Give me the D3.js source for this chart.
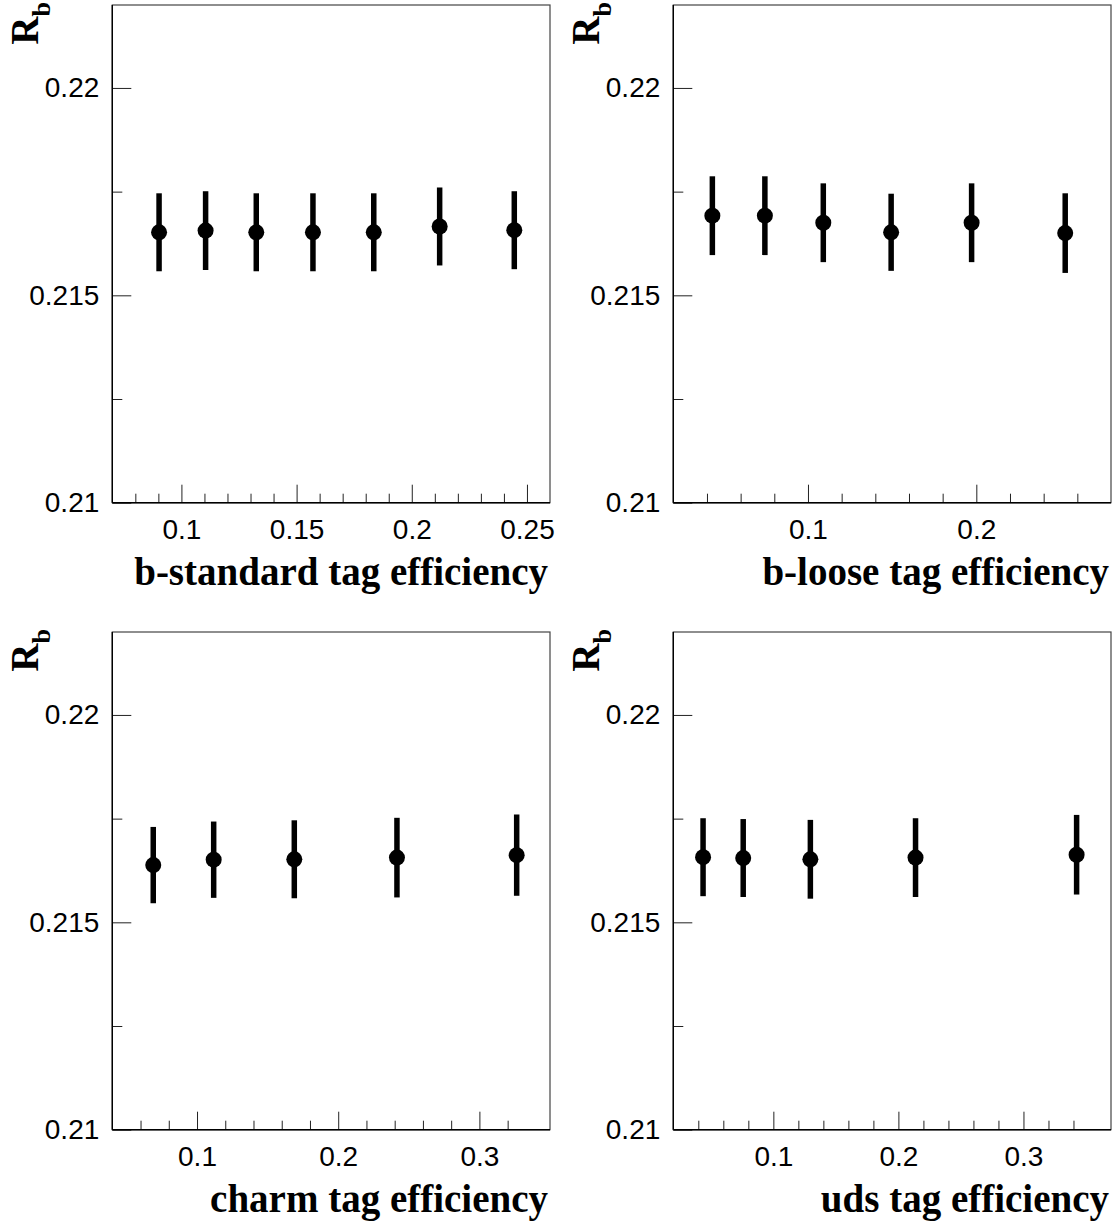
<!DOCTYPE html>
<html>
<head>
<meta charset="utf-8">
<script src="https://cdn.jsdelivr.net/npm/d3@7"></script>
<style>
  body { margin: 0; background: #fff; }
  svg { display: block; }
  .tick text { font-family: "Liberation Sans", Arial, Helvetica, sans-serif; font-size: 28px; fill: #000; }
  .tick line { stroke: #222; stroke-width: 1; }
  .ttl { font-family: "Liberation Serif", "Times New Roman", serif; font-weight: bold; fill: #000; }
</style>
</head>
<body>
<svg id="fig" width="1118" height="1222"></svg>
<script>
// R_b measured versus the tag efficiency of each hemisphere tag
let bstdEff = [0.0903, 0.1105, 0.1325, 0.1571, 0.1835, 0.2121, 0.2445];
let bstdRb  = [0.21652, 0.21656, 0.21652, 0.21652, 0.21652, 0.21666, 0.21657];
let bstdErr = [0.00094, 0.00095, 0.00094, 0.00094, 0.00094, 0.00094, 0.00094];

let blooseEff = [0.0432, 0.0744, 0.1091, 0.1494, 0.1972, 0.2528];
let blooseRb  = [0.21692, 0.21692, 0.21675, 0.21652, 0.21675, 0.21650];
let blooseErr = [0.00095, 0.00095, 0.00095, 0.00093, 0.00095, 0.00096];

let charmEff = [0.069, 0.1118, 0.1689, 0.2416, 0.3264];
let charmRb  = [0.21638, 0.21651, 0.21652, 0.21656, 0.21662];
let charmErr = [0.00092, 0.00092, 0.00094, 0.00096, 0.00098];

let udsEff = [0.0438, 0.0759, 0.1296, 0.2137, 0.3425];
let udsRb  = [0.21657, 0.21655, 0.21652, 0.21656, 0.21663];
let udsErr = [0.00094, 0.00094, 0.00095, 0.00095, 0.00096];

let yTicks = [0.21, 0.215, 0.22];
let yMinor = [0.2125, 0.2175];
let bstdTicks = [0.1, 0.15, 0.2, 0.25];
let blooseTicks = [0.1, 0.2];
let charmTicks = [0.1, 0.2, 0.3];
let udsTicks = [0.1, 0.2, 0.3];

let panels = [
  {title: 'b-standard tag efficiency', eff: bstdEff, rb: bstdRb, err: bstdErr, dom: [0.07, 0.26], ticks: bstdTicks, step: 0.01, col: 0, row: 0},
  {title: 'b-loose tag efficiency', eff: blooseEff, rb: blooseRb, err: blooseErr, dom: [0.02, 0.28], ticks: blooseTicks, step: 0.02, col: 1, row: 0},
  {title: 'charm tag efficiency', eff: charmEff, rb: charmRb, err: charmErr, dom: [0.04, 0.35], ticks: charmTicks, step: 0.02, col: 0, row: 1},
  {title: 'uds tag efficiency', eff: udsEff, rb: udsRb, err: udsErr, dom: [0.02, 0.37], ticks: udsTicks, step: 0.02, col: 1, row: 1}
];

let svg = d3.select('#fig');
let padL = 112.3, padT = 5, w = 437.7, h = 497.7;
let colOff = 561, rowOff = 627;

panels.forEach(p => {
  let g = svg.append('g')
    .attr('transform', `translate(${padL + p.col * colOff},${padT + p.row * rowOff})`);

  let x = d3.scaleLinear().domain(p.dom).range([0, w]);
  let y = d3.scaleLinear().domain([0.21, 0.222]).range([h, 0]);

  // minor ticks first (no labels)
  let minor = d3.range(p.dom[0] + p.step, p.dom[1] - p.step / 2, p.step)
    .filter(v => !p.ticks.some(t => Math.abs(t - v) < 1e-6));
  g.append('g').attr('transform', `translate(0,${h})`)
    .call(d3.axisBottom(x).tickValues(minor).tickSize(-9).tickFormat(''))
    .call(a => a.select('.domain').remove());
  g.append('g')
    .call(d3.axisLeft(y).tickValues(yMinor).tickSize(-10).tickFormat(''))
    .call(a => a.select('.domain').remove());

  // major ticks with labels
  g.append('g').attr('transform', `translate(0,${h})`)
    .call(d3.axisBottom(x).tickValues(p.ticks).tickSize(-18).tickPadding(16).tickFormat(d => String(d)))
    .call(a => a.select('.domain').remove());
  g.append('g')
    .call(d3.axisLeft(y).tickValues(yTicks).tickSize(-19).tickPadding(13).tickFormat(d => String(d)))
    .call(a => a.select('.domain').remove());

  // frame
  g.append('rect').attr('width', w).attr('height', h)
    .attr('fill', 'none').attr('stroke', '#444').attr('stroke-width', 1.2);
  g.append('line').attr('x1', 0).attr('x2', 0).attr('y1', 0).attr('y2', h)
    .attr('stroke', '#000').attr('stroke-width', 1.4);
  g.append('line').attr('x1', 0).attr('x2', w).attr('y1', h).attr('y2', h)
    .attr('stroke', '#000').attr('stroke-width', 1.4);

  let pts = p.eff.map((v, i) => ({x: v, y: p.rb[i], e: p.err[i]}));

  g.selectAll('line.err').data(pts).join('line')
    .attr('class', 'err')
    .attr('x1', d => x(d.x)).attr('x2', d => x(d.x))
    .attr('y1', d => y(d.y - d.e)).attr('y2', d => y(d.y + d.e))
    .attr('stroke', '#000').attr('stroke-width', 5.5);

  g.selectAll('circle').data(pts).join('circle')
    .attr('cx', d => x(d.x)).attr('cy', d => y(d.y))
    .attr('r', 8).attr('fill', '#000');

  // x title
  g.append('text').attr('class', 'ttl')
    .attr('x', w - 2).attr('y', h + 82)
    .attr('text-anchor', 'end').attr('font-size', 39)
    .text(p.title);

  // y title R_b
  let yt = g.append('text').attr('class', 'ttl')
    .attr('transform', `translate(${38 - padL},${-3}) rotate(-90)`)
    .attr('text-anchor', 'end');
  yt.append('tspan').attr('font-size', 39).text('R');
  yt.append('tspan').attr('font-size', 26).attr('dy', 12).text('b');
});
</script>
</body>
</html>
